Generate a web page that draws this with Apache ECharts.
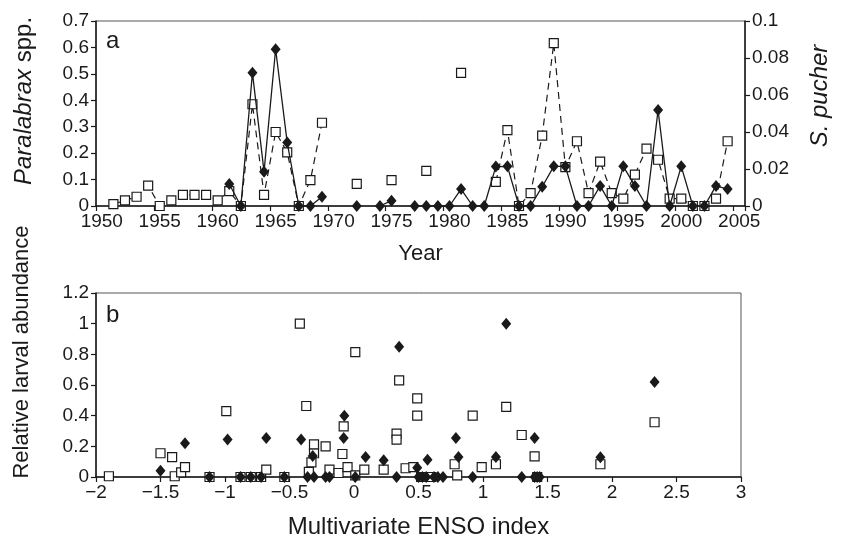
<!DOCTYPE html>
<html>
<head>
<meta charset="utf-8">
<script src="https://cdn.jsdelivr.net/npm/echarts@6/dist/echarts.min.js"></script>
<style>
html, body { margin: 0; padding: 0; background: #fff; }
#chart { width: 843px; height: 537px; }
</style>
</head>
<body>
<div id="chart"></div>
<script>
// panel a: yearly abundance, null = no sample
var years = ['1950', '1951', '1952', '1953', '1954', '1955', '1956', '1957', '1958', '1959',
    '1960', '1961', '1962', '1963', '1964', '1965', '1966', '1967', '1968', '1969',
    '1970', '1971', '1972', '1973', '1974', '1975', '1976', '1977', '1978', '1979',
    '1980', '1981', '1982', '1983', '1984', '1985', '1986', '1987', '1988', '1989',
    '1990', '1991', '1992', '1993', '1994', '1995', '1996', '1997', '1998', '1999',
    '2000', '2001', '2002', '2003', '2004', '2005']

var paralabrax = [null, null, null, null, null, null, null, null, null, null,
    null, 0.083, 0, 0.504, 0.13, 0.593, 0.24, 0, 0, 0.035,
    null, null, 0, null, 0, 0.02, null, 0, 0, 0,
    0, 0.064, 0, 0, 0.149, 0.15, 0, 0, 0.073, 0.15,
    0.15, 0, 0, 0.076, 0, 0.15, 0.076, 0, 0.363, 0,
    0.15, 0, 0, 0.076, 0.064, null]

var pucher = [null, 0.001, 0.003, 0.005, 0.011, 0, 0.003, 0.006, 0.006, 0.006,
    0.003, 0.008, 0, 0.055, 0.006, 0.04, 0.029, 0, 0.014, 0.045,
    null, null, 0.012, null, null, 0.014, null, null, 0.019, null,
    null, 0.072, null, null, 0.013, 0.041, 0, 0.007, 0.038, 0.088,
    0.021, 0.035, 0.007, 0.024, 0.007, 0.004, 0.017, 0.031, 0.025, 0.004,
    0.004, 0, 0, 0.004, 0.035, null]

// panel b: [MEI, relative abundance]
var ensoParalabrax = [[-1.50, 0.04], [-1.31, 0.22], [-1.12, 0], [-0.98, 0.245], [-0.88, 0],
    [-0.80, 0], [-0.72, 0], [-0.68, 0.255], [-0.54, 0], [-0.41, 0.245], [-0.36, 0],
    [-0.32, 0.137], [-0.31, 0], [-0.22, 0], [-0.19, 0], [-0.08, 0.255], [-0.075, 0.40],
    [0.01, 0], [0.09, 0.13], [0.23, 0.11], [0.33, 0], [0.35, 0.85], [0.49, 0.06],
    [0.50, 0], [0.53, 0], [0.56, 0], [0.57, 0.112], [0.62, 0], [0.65, 0], [0.69, 0],
    [0.79, 0.255], [0.81, 0.13], [0.92, 0], [1.10, 0.13], [1.18, 1.0], [1.30, 0],
    [1.40, 0.255], [1.40, 0], [1.42, 0], [1.44, 0], [1.91, 0.128], [2.33, 0.62]]

var ensoPucher = [[-1.90, 0.005], [-1.50, 0.155], [-1.41, 0.13], [-1.39, 0.005], [-1.34, 0.03],
    [-1.31, 0.065], [-1.12, 0], [-0.99, 0.43], [-0.88, 0], [-0.80, 0], [-0.72, 0],
    [-0.68, 0.048], [-0.54, 0], [-0.42, 1.0], [-0.37, 0.463], [-0.35, 0.033],
    [-0.33, 0.096], [-0.31, 0.155], [-0.31, 0.213], [-0.22, 0.2], [-0.19, 0.048],
    [-0.12, 0.026], [-0.09, 0.15], [-0.08, 0.33], [-0.05, 0.065], [0.01, 0.815],
    [0.01, 0.01], [0.08, 0.048], [0.23, 0.048], [0.33, 0.283], [0.33, 0.244],
    [0.35, 0.63], [0.40, 0.057], [0.46, 0.065], [0.49, 0.513], [0.49, 0.40],
    [0.52, 0], [0.60, 0], [0.78, 0.083], [0.80, 0.01], [0.92, 0.40], [0.99, 0.065],
    [1.10, 0.083], [1.18, 0.457], [1.30, 0.274], [1.40, 0.135], [1.42, 0],
    [1.91, 0.083], [2.33, 0.357]]

var FONT = "'Liberation Sans', Arial, Helvetica, sans-serif"
var INK = '#1a1a1a'

var tickLabel = { color: INK, fontFamily: FONT, fontSize: 19 }
var axisLine = { show: true, onZero: false, lineStyle: { color: INK, width: 1.5 } }
var axisTick = { show: true, inside: false, length: 5, lineStyle: { color: INK, width: 1.2 } }
var titleStyle = { color: INK, fontFamily: FONT, fontSize: 22 }

function minus(v) {
    return String(v).replace('-', '\u2212')
}

var chart = echarts.init(document.getElementById('chart'), null, { renderer: 'canvas' })

chart.setOption({
    animation: false,
    backgroundColor: '#fff',
    grid: [
        { left: 96, right: 98, top: 21, height: 185, outerBoundsMode: 'none', show: true, borderColor: '#555', borderWidth: 1 },
        { left: 96, right: 102, top: 293, height: 184, outerBoundsMode: 'none', show: true, borderColor: '#555', borderWidth: 1 }
    ],
    xAxis: [
        {
            gridIndex: 0,
            type: 'category',
            data: years,
            boundaryGap: true,
            axisLine: axisLine,
            axisTick: Object.assign({}, axisTick, { interval: 4 }),
            axisLabel: Object.assign({}, tickLabel, { interval: 4, margin: 6 }),
            splitLine: { show: false },
            name: 'Year',
            nameLocation: 'middle',
            nameGap: 37,
            nameTextStyle: titleStyle
        },
        {
            gridIndex: 1,
            type: 'value',
            min: -2,
            max: 3,
            interval: 0.5,
            axisLine: axisLine,
            axisTick: axisTick,
            axisLabel: Object.assign({}, tickLabel, { margin: 6, formatter: minus }),
            splitLine: { show: false },
            name: 'Multivariate ENSO index',
            nameLocation: 'middle',
            nameGap: 38,
            nameTextStyle: Object.assign({}, titleStyle, { fontSize: 24 })
        }
    ],
    yAxis: [
        {
            gridIndex: 0,
            type: 'value',
            min: 0,
            max: 0.7,
            interval: 0.1,
            axisLine: axisLine,
            axisTick: axisTick,
            axisLabel: Object.assign({}, tickLabel, { margin: 7 }),
            splitLine: { show: false }
        },
        {
            gridIndex: 0,
            type: 'value',
            position: 'right',
            min: 0,
            max: 0.1,
            interval: 0.02,
            axisLine: axisLine,
            axisTick: axisTick,
            axisLabel: Object.assign({}, tickLabel, { margin: 7 }),
            splitLine: { show: false }
        },
        {
            gridIndex: 1,
            type: 'value',
            min: 0,
            max: 1.2,
            interval: 0.2,
            axisLine: axisLine,
            axisTick: axisTick,
            axisLabel: Object.assign({}, tickLabel, { margin: 7 }),
            splitLine: { show: false }
        }
    ],
    graphic: [
        { type: 'text', x: 106, y: 29, style: { text: 'a', font: '24px ' + FONT, fill: INK } },
        { type: 'text', x: 106, y: 303, style: { text: 'b', font: '24px ' + FONT, fill: INK } },
        {
            type: 'text', x: 24, y: 101, rotation: Math.PI / 2,
            style: {
                text: '{i|Paralabrax} spp.', font: '24px ' + FONT, fill: INK,
                align: 'center', verticalAlign: 'middle',
                rich: { i: { fontStyle: 'italic', fontSize: 24, fontFamily: FONT, color: INK } }
            }
        },
        {
            type: 'text', x: 820, y: 96, rotation: Math.PI / 2,
            style: { text: 'S. pucher', font: 'italic 24px ' + FONT, fill: INK, align: 'center', verticalAlign: 'middle' }
        },
        {
            type: 'text', x: 22, y: 352, rotation: Math.PI / 2,
            style: { text: 'Relative larval abundance', font: '22px ' + FONT, fill: INK, align: 'center', verticalAlign: 'middle' }
        }
    ],
    series: [
        {
            name: 'S. pucher',
            type: 'line',
            xAxisIndex: 0,
            yAxisIndex: 1,
            data: pucher,
            showAllSymbol: true,
            symbol: 'rect',
            symbolSize: 9,
            itemStyle: { color: '#fff', borderColor: INK, borderWidth: 1.2 },
            lineStyle: { color: INK, width: 1.2, type: [7, 5] },
            z: 2
        },
        {
            name: 'Paralabrax',
            type: 'line',
            xAxisIndex: 0,
            yAxisIndex: 0,
            data: paralabrax,
            showAllSymbol: true,
            symbol: 'diamond',
            symbolSize: [10, 12],
            itemStyle: { color: INK },
            lineStyle: { color: INK, width: 1.3 },
            z: 3
        },
        {
            name: 'S. pucher ENSO',
            type: 'scatter',
            xAxisIndex: 1,
            yAxisIndex: 2,
            data: ensoPucher,
            symbol: 'rect',
            symbolSize: 9,
            itemStyle: { color: '#fff', borderColor: INK, borderWidth: 1.2, opacity: 1 },
            z: 2
        },
        {
            name: 'Paralabrax ENSO',
            type: 'scatter',
            xAxisIndex: 1,
            yAxisIndex: 2,
            data: ensoParalabrax,
            symbol: 'diamond',
            symbolSize: [10, 12],
            itemStyle: { color: INK, opacity: 1 },
            z: 3
        }
    ]
})

window.addEventListener('resize', function() {
    chart.resize()
})
</script>
</body>
</html>
